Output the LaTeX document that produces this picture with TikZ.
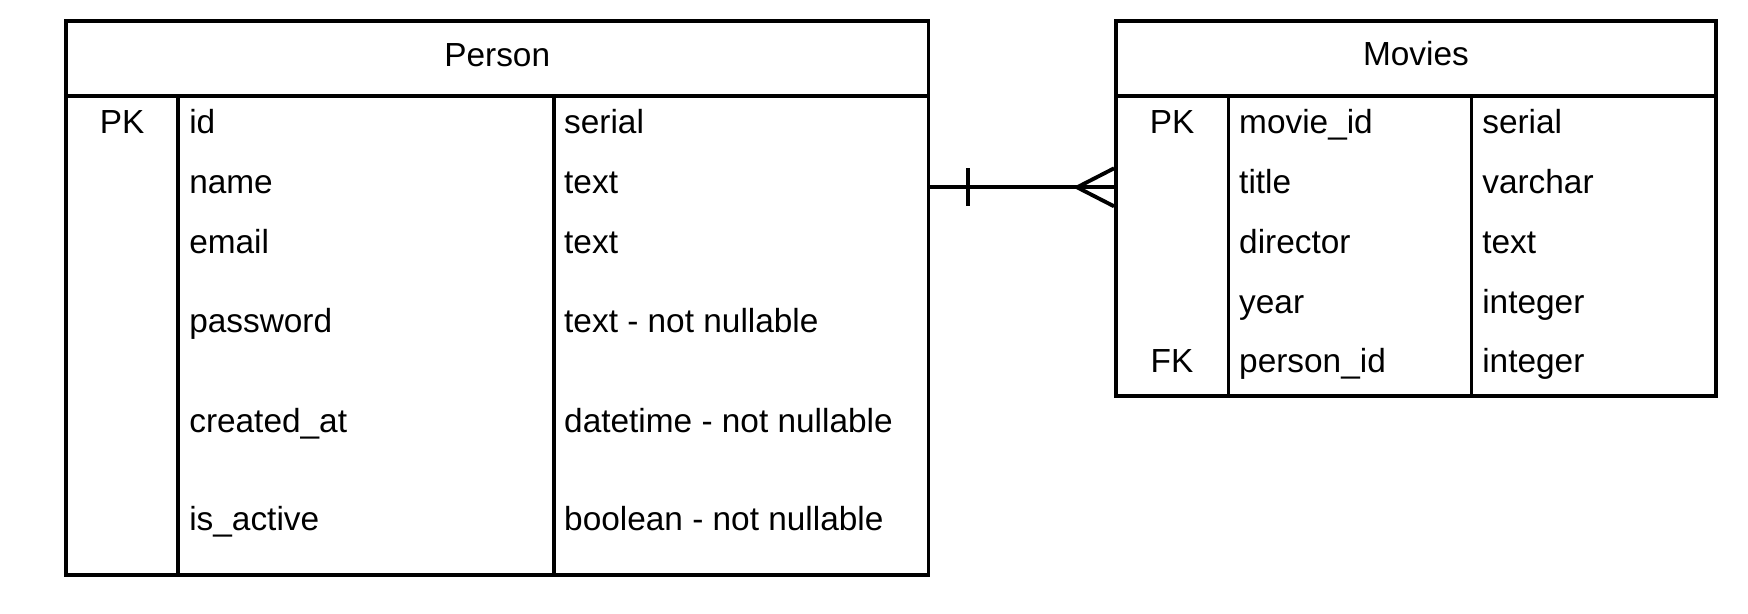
\documentclass[tikz,border=0pt]{standalone}
\usepackage{fontspec}
\setmainfont{Liberation Sans}
\usetikzlibrary{positioning,fit,calc}
\tikzset{
	tbl/.style={draw, line width=1.1pt, inner sep=0pt},
	sep/.style={line width=1.1pt},
	keycell/.style={font=\fontsize{9.5}{11}\selectfont, inner sep=0pt, text height=0.716em, text depth=0pt, yshift=0.6pt},
	attr/.style={keycell, anchor=west},
	edge/.style={color=black, line width=1.1pt}
}
\begin{document}
\begin{tikzpicture}[x=0.1mm,y=-0.1mm]
		\useasboundingbox (0,0) rectangle (1748,613);
		%%%Person
		\node[tbl, fit={(65.8,21.2) (928.5,575.2)}] (person) {};
		\coordinate (phead) at (0,95.9);
		\draw[sep] (person.west |- phead) -- (person.east |- phead);
		\draw[sep] (178.4,95.9) -- (178.4,575.2);
		\draw[sep] (554.1,95.9) -- (554.1,575.2);
		\node[keycell] (ptitle) at (497.2,56) {Person};
		\node[keycell] (ppk) at (122.1,123.3) {PK};
		\node[attr] (pid) at (188.6,123.3) {id};
		\node[attr] (pidt) at (563.5,123.3) {serial};
		\node[attr] (pname) at (188.6,183.3) {name};
		\node[attr] (pnamet) at (563.5,183.3) {text};
		\node[attr] (pmail) at (188.6,242.7) {email};
		\node[attr] (pmailt) at (563.5,242.7) {text};
		\node[attr] (ppass) at (188.6,321.7) {password};
		\node[attr] (ppasst) at (563.5,321.7) {text - not nullable};
		\node[attr] (pcreated) at (188.6,421.7) {created\_at};
		\node[attr] (pcreatedt) at (563.5,421.7) {datetime - not nullable};
		\node[attr] (pactive) at (188.6,520.5) {is\_active};
		\node[attr] (pactivet) at (563.5,520.5) {boolean - not nullable};
		%%%Movies
		\node[tbl, fit={(1116,21.2) (1715.7,395.8)}] (movies) {};
		\draw[sep] (movies.west |- phead) -- (movies.east |- phead);
		\draw[sep] (1228.5,95.9) -- (1228.5,395.8);
		\draw[sep] (1471.5,95.9) -- (1471.5,395.8);
		\node[keycell] (mtitle) at (1415.9,55.5) {Movies};
		\node[keycell] (mpk) at (1172,123.3) {PK};
		\node[attr] (mid) at (1238.5,123.3) {movie\_id};
		\node[attr] (midt) at (1481.6,123.3) {serial};
		\node[attr] (mtit) at (1238.5,183.3) {title};
		\node[attr] (mtitt) at (1481.6,183.3) {varchar};
		\node[attr] (mdir) at (1238.5,242.7) {director};
		\node[attr] (mdirt) at (1481.6,242.7) {text};
		\node[attr] (myear) at (1238.5,303.3) {year};
		\node[attr] (myeart) at (1481.6,303.3) {integer};
		\node[keycell] (mfk) at (1172,361.7) {FK};
		\node[attr] (mpers) at (1238.5,361.7) {person\_id};
		\node[attr] (mperst) at (1481.6,361.7) {integer};
		%%%one-to-many
		\coordinate (rel) at (0,187.3);
		\draw[edge] (person.east |- rel) -- (movies.west |- rel);
		\draw[edge] ($(person.east |- rel)+(37.7,-19)$) -- ++(0,38);
		\draw[edge] ($(movies.west |- rel)+(0,-19)$) -- ($(movies.west |- rel)+(-37,0)$) -- ($(movies.west |- rel)+(0,19)$);
	\end{tikzpicture}
\end{document}
